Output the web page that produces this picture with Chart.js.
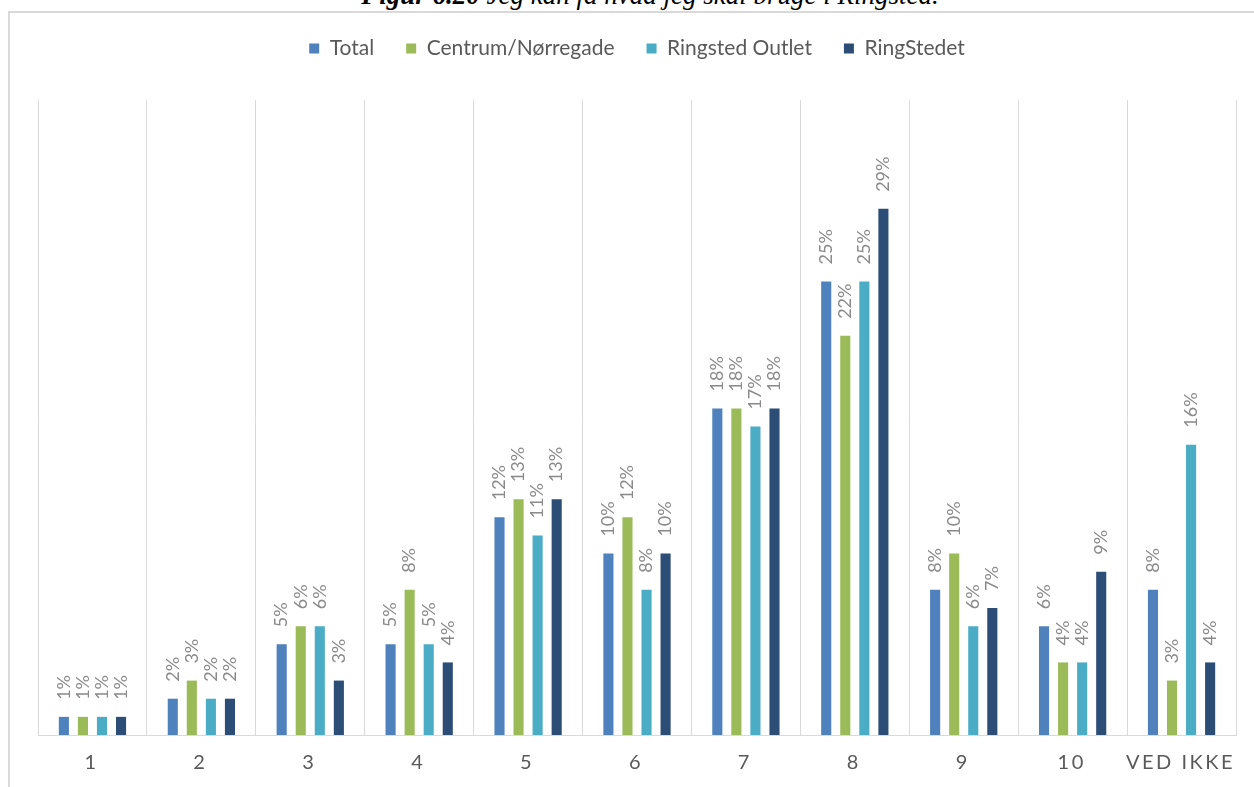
<!DOCTYPE html>
<html>
<head>
<meta charset="utf-8">
<script src="https://cdn.jsdelivr.net/npm/chart.js@4"></script>
<style>
  html, body { margin: 0; padding: 0; background: #fff; overflow: hidden; }
  #frame {
    position: absolute; left: 8px; top: 11px; right: -10px; bottom: -10px;
    border-left: 2px solid #d9d9d9; border-top: 2px solid #d9d9d9;
  }
  #titel {
    position: absolute; left: 0; width: 1300px; top: -18px; text-align: center;
    font-family: "Liberation Serif", "Times New Roman", serif; font-style: italic;
    font-size: 27px; line-height: 26px; color: #000; white-space: nowrap;
  }
  #wrap { position: absolute; left: 0; top: 0; width: 1254px; height: 787px; }
</style>
</head>
<body>
<div id="frame"></div>
<div id="titel"><b>Figur 6.20</b> Jeg kan få hvad jeg skal bruge i Ringsted.</div>
<div id="wrap"><canvas id="chart" width="1254" height="787"></canvas></div>
<script>
const kategorier = ['1', '2', '3', '4', '5', '6', '7', '8', '9', '10', 'VED IKKE'];
const serier = ['Total', 'Centrum/Nørregade', 'Ringsted Outlet', 'RingStedet'];
const total      = [1, 2, 5, 5, 12, 10, 18, 25, 8, 6, 8];
const centrum    = [1, 3, 6, 8, 13, 12, 18, 22, 10, 4, 3];
const outlet     = [1, 2, 6, 5, 11, 8, 17, 25, 6, 4, 16];
const ringstedet = [1, 2, 3, 4, 13, 10, 18, 29, 7, 9, 4];
const farver = ['#4F81BD', '#9BBB59', '#4BACC6', '#2C4D75'];

const grå = '#595959';

// ekstra luft under legenden
const legendAfstand = {
    id: 'legendAfstand',
    beforeInit(chart) {
        const fit = chart.legend.fit;
        chart.legend.fit = function () {
            fit.bind(chart.legend)();
            this.height += 31;
        };
    }
};

// lodrette procent-etiketter over søjlerne
const etiketter = {
    id: 'etiketter',
    afterDatasetsDraw(chart) {
        const ctx = chart.ctx;
        ctx.save();
        ctx.font = '18px Lato';
        ctx.fillStyle = '#8a8a8a';
        ctx.textAlign = 'left';
        ctx.textBaseline = 'middle';
        chart.data.datasets.forEach((ds, i) => {
            chart.getDatasetMeta(i).data.forEach((bar, j) => {
                ctx.save();
                ctx.translate(bar.x, bar.y - 17);
                ctx.rotate(-Math.PI / 2);
                ctx.fillText(ds.data[j] + '%', 0, 0);
                ctx.restore();
            });
        });
        ctx.restore();
    }
};

// kategorinavne med spatiering
const aksetekst = {
    id: 'aksetekst',
    afterDraw(chart) {
        const ctx = chart.ctx;
        const x = chart.scales.x;
        ctx.save();
        ctx.font = '20px Lato';
        ctx.fillStyle = grå;
        ctx.textAlign = 'center';
        ctx.textBaseline = 'middle';
        ctx.letterSpacing = '2.5px';
        kategorier.forEach((k, i) => {
            ctx.fillText(k, x.getPixelForValue(i) - 1, chart.chartArea.bottom + 28);
        });
        ctx.restore();
    }
};

new Chart(document.getElementById('chart'), {
    type: 'bar',
    data: {
        labels: kategorier,
        datasets: [total, centrum, outlet, ringstedet].map((d, i) => ({
            label: serier[i],
            data: d,
            backgroundColor: farver[i],
            categoryPercentage: 0.70,
            barPercentage: 0.53
        }))
    },
    options: {
        responsive: false,
        animation: false,
        layout: { padding: { left: 38, right: 18, top: 6, bottom: 0 } },
        plugins: {
            tooltip: { enabled: false },
            legend: {
                position: 'top',
                labels: {
                    boxWidth: 10,
                    boxHeight: 10,
                    padding: 32,
                    color: grå,
                    font: { family: 'Lato', size: 21 }
                }
            }
        },
        scales: {
            x: {
                grid: { color: '#d9d9d9', drawTicks: false, offset: true },
                border: { color: '#d9d9d9' },
                ticks: { display: false },
                afterFit: s => { s.height = 52; }
            },
            y: {
                display: false,
                min: 0,
                max: 35
            }
        }
    },
    plugins: [legendAfstand, etiketter, aksetekst]
});
</script>
</body>
</html>
